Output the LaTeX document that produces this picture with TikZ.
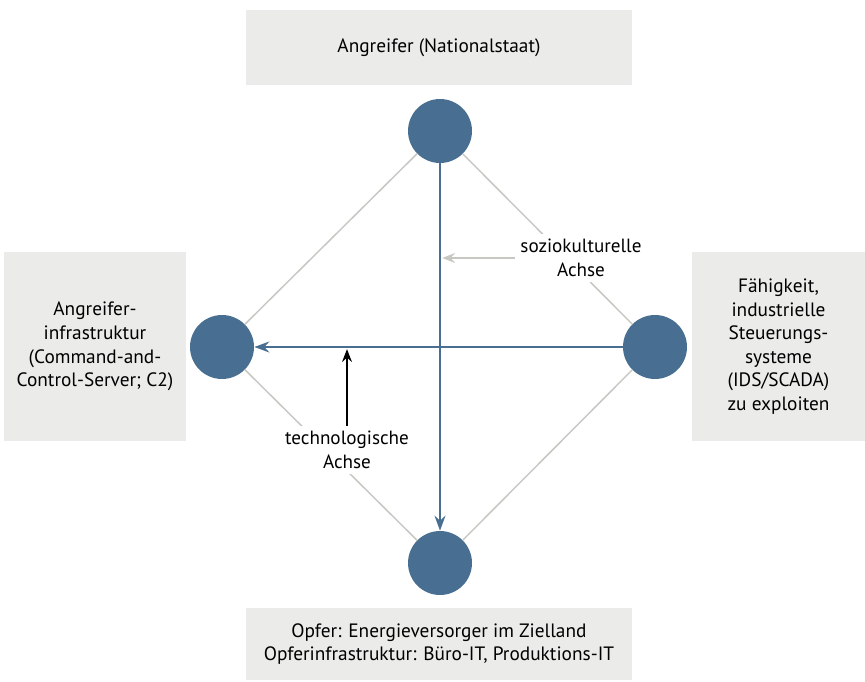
\documentclass[tikz,border=0pt]{standalone}
\usepackage{fontspec}
\setmainfont{PT Sans}
\usetikzlibrary{arrows.meta}
\definecolor{knotblau}{RGB}{72,110,145}
\definecolor{kastengrau}{RGB}{235,235,233}
\definecolor{liniengrau}{RGB}{200,200,195}
\begin{document}
\begin{tikzpicture}[x=0.02cm,y=-0.02cm,
kasten/.style={fill=kastengrau,inner sep=0pt,align=center,font=\fontsize{11}{13.4}\selectfont},
knoten/.style={circle,fill=knotblau,minimum size=1.28cm,inner sep=0pt},
kante/.style={liniengrau,line width=0.85pt},
achse/.style={knotblau,line width=1.1pt,-{Stealth[length=3mm,width=2.2mm,inset=1mm]}},
marke/.style={fill=white,align=center,inner sep=3pt,font=\fontsize{10.9}{13.4}\selectfont}]
\useasboundingbox (0,0) rectangle (865,682);
% Akteure
\node[kasten,minimum width=7.72cm,minimum height=1.5cm] (angreifer) at (439,47.5) {Angreifer (Nationalstaat)};
\node[kasten,minimum width=3.64cm,minimum height=3.78cm] (infra) at (95,346.5) {Angreifer-\\infrastruktur\\(Command-and-\\Control-Server; C2)};
\node[kasten,minimum width=3.46cm,minimum height=3.78cm] (faehig) at (778.5,346.5) {Fähigkeit,\\industrielle\\Steuerungs-\\systeme\\(IDS/SCADA)\\zu exploiten};
\node[kasten,minimum width=7.72cm,minimum height=1.44cm] (opfer) at (439,644) {Opfer: Energieversorger im Zielland\\Opferinfrastruktur: Büro-IT, Produktions-IT};
% Knoten der Raute
\node[knoten] (oben) at (440,131) {};
\node[knoten] (links) at (222,347) {};
\node[knoten] (rechts) at (655,347) {};
\node[knoten] (unten) at (440,563) {};
\draw[kante] (oben) -- (links);
\draw[kante] (oben) -- (rechts);
\draw[kante] (links) -- (unten);
\draw[kante] (rechts) -- (unten);
% Achsen
\node[marke] (sozio) at (581,258) {soziokulturelle\\Achse};
\node[marke] (techno) at (347,450) {technologische\\Achse};
\draw[achse] (oben) -- (unten);
\draw[achse] (rechts) -- (links);
\draw[liniengrau,line width=0.85pt,-{Stealth[length=2.6mm,width=2mm,inset=0.9mm]},shorten >=1.2pt] (sozio.west) -- (sozio.west -| oben.south);
\draw[black,line width=0.85pt,-{Stealth[length=2.6mm,width=2mm,inset=0.9mm]},shorten >=1.2pt] (techno.north) -- (techno.north |- links.east);
\end{tikzpicture}
\end{document}
